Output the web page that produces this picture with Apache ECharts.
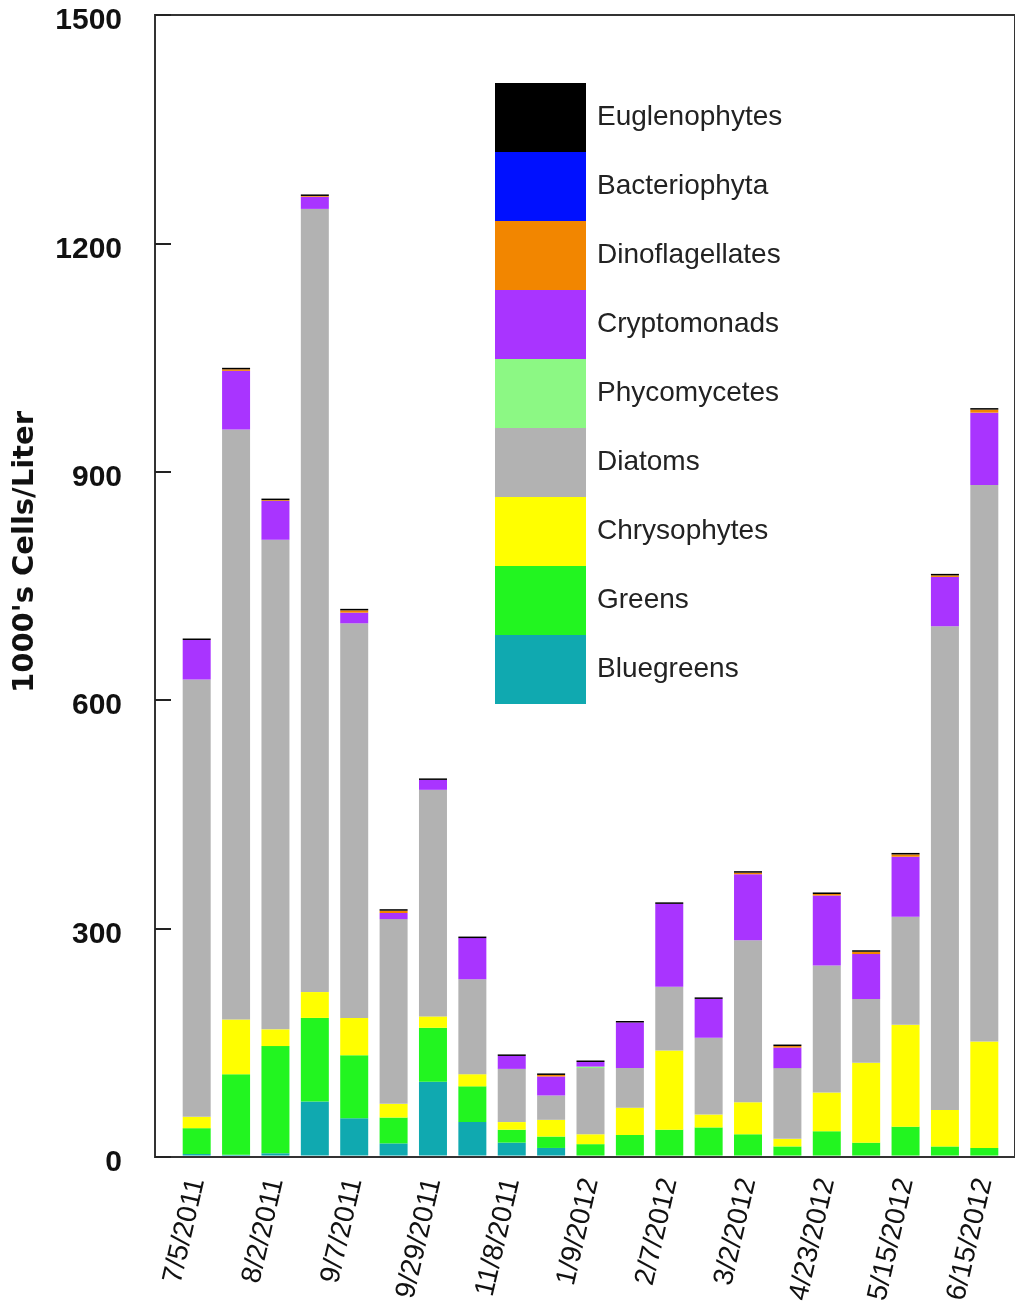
<!DOCTYPE html>
<html lang="en">
  <head>
    <meta charset="UTF-8" />
    <title>Phytoplankton Cells</title>
    <script src="https://cdn.jsdelivr.net/npm/echarts@6/dist/echarts.min.js"></script>
    <style>
      body {
        margin: 0;
        padding: 0;
        background: #fff;
      }
      #main {
        width: 1015px;
        height: 1306px;
      }
    </style>
  </head>
  <body>
    <div id="main"></div>

    <script>
      // sample dates (only every other one is labelled on the axis)
      const dates = [
        "7/5/2011", "", "8/2/2011", "", "9/7/2011", "", "9/29/2011", "",
        "11/8/2011", "", "1/9/2012", "", "2/7/2012", "", "3/2/2012", "",
        "4/23/2012", "", "5/15/2012", "", "6/15/2012",
      ];

      // 1000's cells per liter, stacked bottom to top
      const bluegreens = [2, 1, 3, 71, 49, 16, 97, 44, 17, 10, 0, 0, 0, 0, 0, 0, 0, 0, 0, 0, 0];
      const greens = [34, 106, 141, 110, 83, 34, 71, 47, 17, 15, 15, 27, 34, 37, 28, 12, 32, 17, 38, 12, 10];
      const chrysophytes = [15, 72, 22, 34, 49, 18, 15, 16, 10, 22, 13, 36, 104, 17, 42, 10, 51, 105, 134, 48, 140];
      const diatoms = [575, 776, 644, 1030, 519, 243, 298, 125, 70, 32, 87, 52, 84, 101, 213, 93, 167, 84, 142, 636, 732];
      const phycomycetes = [0, 0, 0, 0, 0, 0, 0, 0, 0, 0, 2, 0, 0, 0, 0, 0, 0, 0, 0, 0, 0];
      const cryptomonads = [52, 77, 51, 16, 14, 8, 13, 54, 17, 25, 6, 60, 109, 51, 87, 27, 92, 59, 79, 65, 95];
      const dinoflagellates = [0, 2, 1, 1, 3, 3, 0, 0, 0, 2, 0, 0, 0, 0, 2, 2, 2, 3, 3, 2, 4];
      const bacteriophyta = [0, 0, 0, 0, 0, 0, 0, 0, 0, 0, 0, 0, 0, 0, 0, 0, 0, 0, 0, 0, 0];
      const euglenophytes = [2, 2, 2, 2, 2, 2, 2, 2, 2, 2, 2, 2, 2, 2, 2, 2, 2, 2, 2, 2, 2];

      const groups = [
        { name: "Bluegreens", data: bluegreens, color: "#10a9b0" },
        { name: "Greens", data: greens, color: "#22f520" },
        { name: "Chrysophytes", data: chrysophytes, color: "#ffff00" },
        { name: "Diatoms", data: diatoms, color: "#b2b2b2" },
        { name: "Phycomycetes", data: phycomycetes, color: "#8cf884" },
        { name: "Cryptomonads", data: cryptomonads, color: "#a934ff" },
        { name: "Dinoflagellates", data: dinoflagellates, color: "#f28600" },
        { name: "Bacteriophyta", data: bacteriophyta, color: "#0010ff" },
        { name: "Euglenophytes", data: euglenophytes, color: "#000000" },
      ];

      const myChart = echarts.init(document.getElementById("main"));

      const option = {
        animation: false,
        backgroundColor: "#fff",
        legend: {
          orient: "vertical",
          left: 495,
          top: 83,
          padding: 0,
          itemGap: 0,
          itemWidth: 91,
          itemHeight: 69,
          icon: "rect",
          selectedMode: false,
          data: groups.map((g) => g.name).reverse(),
          textStyle: {
            fontFamily: "Liberation Sans, Arial, sans-serif",
            fontSize: 28,
            color: "#222",
            padding: [6, 0, 0, 6],
          },
        },
        graphic: [
          {
            type: "text",
            x: 25,
            y: 552,
            rotation: Math.PI / 2,
            style: {
              text: "1000's Cells/Liter",
              fontFamily: "DejaVu Sans",
              fontWeight: "bold",
              fontSize: 29,
              fill: "#111",
              align: "center",
              verticalAlign: "middle",
            },
          },
        ],
        grid: [
          {
            // frame of the plot, right edge runs off the picture
            left: 155,
            top: 15,
            width: 880,
            height: 1142,
            show: true,
            borderColor: "#333",
            borderWidth: 2,
            backgroundColor: "transparent",
          },
          {
            left: 177,
            top: 15,
            width: 827,
            height: 1142,
          },
        ],
        xAxis: [
          { type: "value", gridIndex: 0, show: false, min: 0, max: 1 },
          {
            type: "category",
            gridIndex: 1,
            data: dates,
            axisLine: { show: false },
            axisTick: { show: false },
            axisLabel: {
              interval: 0,
              rotate: 77,
              margin: 23,
              fontFamily: "Liberation Sans, Arial, sans-serif",
              fontSize: 28,
              color: "#111",
            },
          },
        ],
        yAxis: [
          {
            type: "value",
            gridIndex: 0,
            min: 0,
            max: 1500,
            interval: 300,
            axisLine: { show: false },
            axisTick: {
              show: true,
              inside: true,
              length: 16,
              lineStyle: { color: "#222", width: 2 },
            },
            axisLabel: {
              margin: 33,
              verticalAlign: "top",
              lineHeight: 12,
              formatter: (v) => String(v),
              fontFamily: "Liberation Sans, Arial, sans-serif",
              fontWeight: "bold",
              fontSize: 30,
              color: "#111",
            },
            splitLine: { show: false },
          },
          { type: "value", gridIndex: 1, min: 0, max: 1500, show: false },
        ],
        series: groups.map((g) => ({
          name: g.name,
          type: "bar",
          stack: "total",
          xAxisIndex: 1,
          yAxisIndex: 1,
          barWidth: 28,
          data: g.data,
          itemStyle: { color: g.color },
        })),
      };

      myChart.setOption(option);
    </script>
  </body>
</html>
